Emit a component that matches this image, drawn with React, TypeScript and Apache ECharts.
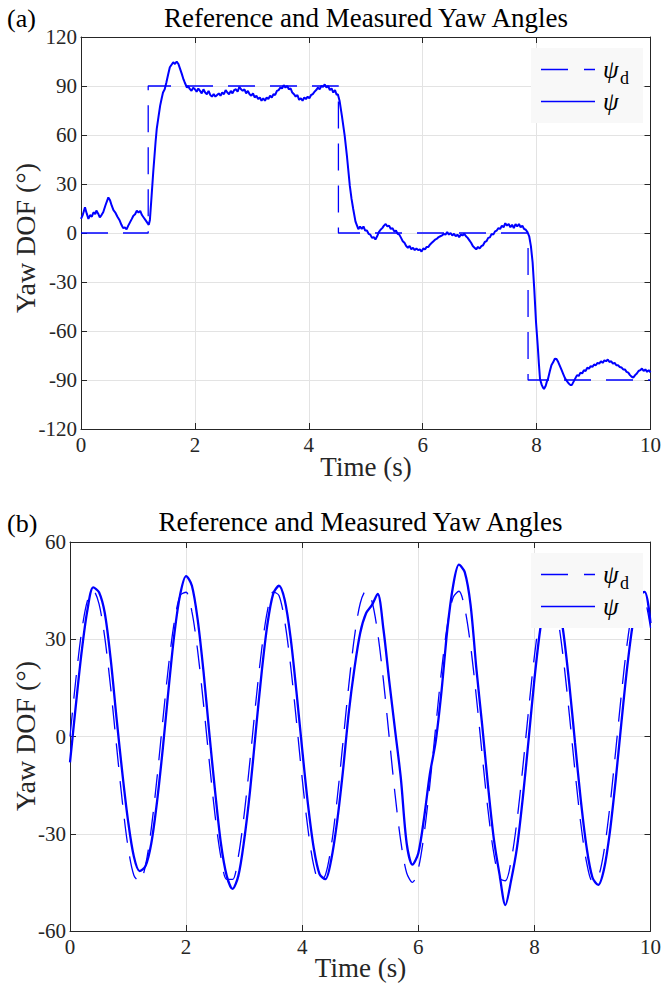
import { useEffect, useRef } from "react";
import * as echarts from "echarts";

// ---------- data ----------
const xTicks = [0, 2, 4, 6, 8, 10];
const topYTicks = [-120, -90, -60, -30, 0, 30, 60, 90, 120];
const botYTicks = [-60, -30, 0, 30, 60];

// (a) step reference
const topRefTime = [0, 1.18, 1.18, 4.52, 4.52, 7.85, 7.85, 10];
const topRefYaw = [0, 0, 90, 90, 0, 0, -90, -90];

// (a) measured yaw
const topMeasTime = [
  0.0, 0.03, 0.07, 0.1, 0.13, 0.16, 0.19, 0.22, 0.25, 0.27, 0.3, 0.33, 0.36, 0.39, 0.43, 0.48, 0.51, 0.54, 0.57, 0.6,
  0.64, 0.68, 0.71, 0.74, 0.77, 0.8, 0.83, 0.86, 0.89, 0.92, 0.95, 0.98, 1.01, 1.04, 1.07, 1.1, 1.13, 1.16, 1.19, 1.21,
  1.24, 1.27, 1.29, 1.31, 1.33, 1.36, 1.39, 1.42, 1.44, 1.47, 1.5, 1.53, 1.56, 1.59, 1.62, 1.65, 1.68, 1.71, 1.74, 1.77,
  1.8, 1.82, 1.86, 1.88, 1.91, 1.94, 1.97, 2.0, 2.03, 2.06, 2.09, 2.12, 2.15, 2.18, 2.21, 2.24, 2.27, 2.3, 2.33, 2.36,
  2.39, 2.42, 2.45, 2.48, 2.51, 2.54, 2.57, 2.6, 2.63, 2.66, 2.69, 2.72, 2.75, 2.78, 2.81, 2.84, 2.87, 2.9, 2.93, 2.96,
  2.99, 3.02, 3.05, 3.08, 3.11, 3.14, 3.17, 3.2, 3.23, 3.26, 3.29, 3.32, 3.35, 3.38, 3.41, 3.44, 3.47, 3.5, 3.53, 3.56,
  3.59, 3.62, 3.65, 3.68, 3.71, 3.74, 3.77, 3.8, 3.83, 3.86, 3.89, 3.92, 3.95, 3.98, 4.01, 4.04, 4.07, 4.1, 4.13, 4.16,
  4.19, 4.22, 4.25, 4.28, 4.31, 4.34, 4.37, 4.4, 4.43, 4.46, 4.49, 4.51, 4.54, 4.58, 4.63, 4.67, 4.72, 4.75, 4.78, 4.82,
  4.87, 4.9, 4.93, 4.96, 4.99, 5.02, 5.05, 5.08, 5.11, 5.14, 5.17, 5.2, 5.23, 5.26, 5.29, 5.32, 5.35, 5.38, 5.41, 5.44,
  5.47, 5.5, 5.53, 5.56, 5.59, 5.62, 5.65, 5.68, 5.71, 5.74, 5.77, 5.8, 5.83, 5.86, 5.89, 5.92, 5.95, 5.98, 6.01, 6.04,
  6.07, 6.1, 6.13, 6.16, 6.19, 6.22, 6.25, 6.28, 6.31, 6.34, 6.37, 6.4, 6.43, 6.46, 6.49, 6.52, 6.55, 6.58, 6.61, 6.64,
  6.67, 6.7, 6.73, 6.76, 6.79, 6.82, 6.85, 6.88, 6.91, 6.94, 6.97, 7.0, 7.03, 7.06, 7.09, 7.12, 7.15, 7.18, 7.21, 7.24,
  7.27, 7.3, 7.33, 7.36, 7.39, 7.42, 7.45, 7.48, 7.51, 7.54, 7.57, 7.6, 7.63, 7.66, 7.69, 7.72, 7.75, 7.78, 7.81, 7.84,
  7.87, 7.9, 7.93, 7.96, 7.99, 8.02, 8.04, 8.06, 8.09, 8.11, 8.13, 8.16, 8.18, 8.2, 8.23, 8.26, 8.29, 8.32, 8.35, 8.38,
  8.41, 8.44, 8.47, 8.5, 8.53, 8.56, 8.59, 8.62, 8.65, 8.68, 8.71, 8.74, 8.77, 8.8, 8.83, 8.86, 8.89, 8.92, 8.95, 8.98,
  9.01, 9.04, 9.07, 9.1, 9.13, 9.16, 9.19, 9.22, 9.25, 9.28, 9.31, 9.34, 9.37, 9.4, 9.43, 9.46, 9.49, 9.52, 9.55, 9.58,
  9.61, 9.64, 9.67, 9.7, 9.73, 9.76, 9.79, 9.82, 9.85, 9.88, 9.91, 9.94, 9.97, 10.0,
];
const topMeasYaw = [
  8.6, 11, 15.7, 12, 8.6, 11, 10, 12.7, 11.5, 13.7, 12, 9.6, 11, 12.7, 17, 21.8, 20, 16.7, 14, 12.7,
  10, 7.6, 5, 3, 3.5, 2.2, 4.5, 6.5, 8.5, 10.6, 11.5, 13.7, 12.5, 13.5, 11, 9.5, 8, 6.5, 5, 8,
  22.9, 38, 47, 56, 63.7, 71, 78, 83, 86, 88, 92.3, 97, 101.5, 103, 104.5, 103.5, 105, 103.5, 100.5, 97.4,
  94, 92.3, 89, 90, 88.2, 87, 89, 88, 86.5, 88.5, 87, 85.5, 88, 86, 85, 87, 84.5, 83.5, 85, 83.5,
  84.5, 85.5, 84, 86, 85, 87.5, 86, 85, 87, 85.5, 87.5, 88, 86.5, 89.5, 88, 87, 88, 85.5, 87, 85,
  84, 85.5, 83, 84, 82, 83, 81, 82.5, 81, 83, 82, 84, 83, 85, 84.5, 87, 87.5, 89, 88.5, 90.5,
  89, 90, 88, 88.5, 86, 85, 83.5, 84.5, 81.5, 82.5, 81, 83, 82, 83.5, 82.5, 84.5, 85, 86.5, 87.5, 89,
  88, 90, 89.5, 91, 89, 90, 87.5, 88.5, 86, 87.5, 84.5, 85, 81, 72, 59.6, 47, 29, 21, 14.7, 7,
  2.4, 4, 2.5, 4, 1.5, 1.5, -0.5, -1, -3, -2.5, -4, -2, 0.5, 2, 3, 4.5, 5.5, 4, 4.5, 2.5,
  3, 1, 1.5, -0.5, -1, -3, -5, -6, -8, -9, -8, -10, -9, -10.5, -9.5, -10.5, -10, -11.4, -9.5, -10,
  -8.5, -8.5, -7, -6, -5, -4, -3.5, -2.5, -2, -1.5, -0.5, -1, 0.5, -1, 0, -1.5, -0.5, -2, -1, -2.5,
  -1, -1.5, -0.5, -2, -3, -4.5, -6, -8, -9, -10, -8.5, -9.5, -8, -7.5, -5.5, -5, -3, -2.7, -0.5, -1,
  1, 1.5, 3, 2.5, 4.5, 3.5, 6, 4.5, 5.5, 3.5, 5, 3, 5.5, 4, 5.5, 3.5, 4.5, 2.5, 2, 0.5,
  -2, -8, -18, -35, -54.7, -69, -80, -89.4, -93, -94.5, -95.5, -93.5, -91, -89.4, -85, -81, -79.2, -77, -77.2, -79,
  -81.5, -84, -86.5, -89, -90.5, -92, -93, -93, -91, -89, -87, -87.5, -85.5, -86, -84, -84.5, -82.5, -83, -81.5, -82,
  -80.5, -81, -79.5, -80, -78.5, -79.5, -78, -78.5, -77.5, -79, -78.5, -80, -79.5, -81, -81, -82, -82.3, -83.5, -83.5, -85,
  -85.5, -87, -88, -88.5, -87, -86, -84.5, -84, -83, -84.5, -83.5, -85, -84, -85.3,
];

// (b) sinusoidal reference and measured yaw, sampled every 0.1 s
const botRefYaw = [
  0, 17.5, 32.3, 41.9, 45, 40.9, 30.4, 15.1, -2.6, -19.9,
  -34.1, -42.8, -44.8, -39.8, -28.4, -12.6, 5.2, 22.2, 35.7, 43.6,
  44.5, 38.5, 26.3, 10, -7.8, -24.5, -37.3, -44.1, -44.1, -37,
  -24.1, -7.5, 10.4, 26.6, 38.7, 44.6, 43.5, 35.4, 21.9, 4.9,
  -13, -28.7, -39.9, -44.9, -42.7, -33.8, -19.6, -2.2, 15.4, 30.7,
  41.1, 45, 41.8, 32, 17.2, -0.4, -17.9, -32.5, -42.1, -45,
  -40.8, -30.1, -14.7, 3, 20.3, 34.3, 42.9, 44.8, 39.6, 28.1,
  12.2, -5.6, -22.6, -36, -43.7, -44.5, -38.2, -26, -9.6, 8.2,
  24.8, 37.5, 44.2, 44, 36.8, 23.8, 7.1, -10.8, -27, -38.9,
  -44.6, -43.3, -35.2, -21.6, -4.5, 13.3, 29, 40.1, 44.9, 42.6,
  33.5,
];
const botMeasYaw = [
  -8, 9.5, 26, 39, 46, 44.5, 38, 24, 6, -11,
  -26, -37, -41.5, -40, -33, -20, -3.5, 15, 32, 44,
  49.5, 46.5, 36, 20, 1, -17, -33, -43, -47, -43,
  -32, -17, 1.5, 19.5, 34.5, 44, 46.5, 42, 30.5, 14,
  -4, -21, -34.5, -42.5, -44, -38, -26.5, -11, 7, 21,
  32, 38, 40.5, 44, 33, 17, 2, -13, -33, -39.5,
  -36, -25, -11.5, -1.5, 14, 33, 46.5, 53, 50.7, 40.7,
  21, 3.6, -15, -31.4, -42.6, -52, -44.3, -34.3, -19, -1,
  17.6, 33, 43.4, 46.8, 42.8, 32, 16.4, -2, -19.7, -34.3,
  -43.5, -45.8, -40.9, -29.5, -13.5, 4.5, 21.6, 35.3, 43.4, 44.6,
  35,
];
const botTime = botRefYaw.map((_, i) => i / 10);

const titleText = "Reference and Measured Yaw Angles";
const xName = "Time (s)";
const yName = "Yaw DOF (°)";

// ---------- styles ----------
const SERIF = "Liberation Serif";
const AX = "#262626";
const GRIDC = "#e3e3e3";
const BLUE = "#0000ff";
const TICK_FS = 21;
const NAME_FS = 27;

const grids = [
  { left: 81, top: 37, width: 570, height: 392 },
  { left: 70, top: 542, width: 581, height: 389 },
];

function xAxes(gi: number) {
  const base = {
    type: "value" as const,
    gridIndex: gi,
    min: xTicks[0],
    max: xTicks[xTicks.length - 1],
    interval: 2,
    axisLine: { show: true, onZero: false, lineStyle: { color: AX, width: 1 } },
    axisTick: { show: true, inside: true, length: 6, lineStyle: { color: AX } },
  };
  return [
    {
      ...base,
      position: "bottom",
      axisLabel: { show: true, color: AX, fontFamily: SERIF, fontSize: TICK_FS, margin: 5 },
      splitLine: { show: true, lineStyle: { color: GRIDC, width: 1 } },
    },
    { ...base, position: "top", axisLabel: { show: false }, splitLine: { show: false } },
  ];
}

function yAxes(gi: number, ticks: number[]) {
  const base = {
    type: "value" as const,
    gridIndex: gi,
    min: ticks[0],
    max: ticks[ticks.length - 1],
    interval: 30,
    axisLine: { show: true, onZero: false, lineStyle: { color: AX, width: 1 } },
    axisTick: { show: true, inside: true, length: 6, lineStyle: { color: AX } },
  };
  return [
    {
      ...base,
      position: "left",
      axisLabel: { show: true, color: AX, fontFamily: SERIF, fontSize: TICK_FS, margin: 4 },
      splitLine: { show: true, lineStyle: { color: GRIDC, width: 1 } },
    },
    { ...base, position: "right", axisLabel: { show: false }, splitLine: { show: false } },
  ];
}

function legendEls(top: number) {
  const left = 531;
  const r1 = top + 21.5;
  const r2 = top + 53.5;
  return [
    {
      type: "rect",
      z: 100,
      shape: { x: left, y: top, width: 112, height: 75 },
      style: { fill: "#f8f8f8", stroke: "none" },
    },
    {
      type: "line",
      z: 101,
      shape: { x1: 541, y1: r1, x2: 595, y2: r1 },
      style: { stroke: BLUE, lineWidth: 1.3, lineDash: [27, 16] },
    },
    {
      type: "text",
      z: 101,
      x: 603,
      y: r1,
      style: { text: "ψ", fontFamily: SERIF, fontSize: 25, fontStyle: "italic", fill: "#000", textAlign: "left", textVerticalAlign: "middle", verticalAlign: "middle" },
    },
    {
      type: "text",
      z: 101,
      x: 620,
      y: r1 + 8,
      style: { text: "d", fontFamily: SERIF, fontSize: 18, fill: "#000", textAlign: "left", textVerticalAlign: "middle", verticalAlign: "middle" },
    },
    {
      type: "line",
      z: 101,
      shape: { x1: 541, y1: r2, x2: 595, y2: r2 },
      style: { stroke: BLUE, lineWidth: 1.3 },
    },
    {
      type: "text",
      z: 101,
      x: 603,
      y: r2,
      style: { text: "ψ", fontFamily: SERIF, fontSize: 25, fontStyle: "italic", fill: "#000", textAlign: "left", textVerticalAlign: "middle", verticalAlign: "middle" },
    },
  ];
}

function txt(text: string, x: number, y: number, size: number, rot = 0, color = AX, align = "center") {
  return {
    type: "text",
    z: 100,
    x,
    y,
    rotation: rot,
    style: { text, fontFamily: SERIF, fontSize: size, fill: color, textAlign: align, textVerticalAlign: "middle", verticalAlign: "middle" },
  };
}

export default function App() {
  const ref = useRef<HTMLDivElement>(null);
  useEffect(() => {
    if (!ref.current) return;
    const chart = echarts.init(ref.current, undefined, { renderer: "svg" });
    const option = {
      animation: false,
      backgroundColor: "#ffffff",
      textStyle: { fontFamily: SERIF },
      grid: grids,
      xAxis: [...xAxes(0), ...xAxes(1)],
      yAxis: [...yAxes(0, topYTicks), ...yAxes(1, botYTicks)],
      series: [
        {
          type: "line",
          name: "psi_d (a)",
          xAxisIndex: 0,
          yAxisIndex: 0,
          data: topRefTime.map((t, i) => [t, topRefYaw[i]]),
          showSymbol: false,
          lineStyle: { color: BLUE, width: 1.3, type: [27, 15] },
          z: 3,
        },
        {
          type: "line",
          name: "psi (a)",
          xAxisIndex: 0,
          yAxisIndex: 0,
          data: topMeasTime.map((t, i) => [t, topMeasYaw[i]]),
          showSymbol: false,
          lineStyle: { color: BLUE, width: 2 },
          z: 2,
        },
        {
          type: "line",
          name: "psi_d (b)",
          xAxisIndex: 2,
          yAxisIndex: 2,
          data: botTime.map((t, i) => [t, botRefYaw[i]]),
          showSymbol: false,
          smooth: 0.3,
          lineStyle: { color: BLUE, width: 1.3, type: [24, 14] },
          z: 3,
        },
        {
          type: "line",
          name: "psi (b)",
          xAxisIndex: 2,
          yAxisIndex: 2,
          data: botTime.map((t, i) => [t, botMeasYaw[i]]),
          showSymbol: false,
          smooth: 0.3,
          lineStyle: { color: BLUE, width: 2.3 },
          z: 2,
        },
      ],
      graphic: {
        elements: [
          txt(titleText, 366, 18, NAME_FS, 0, "#000"),
          txt(titleText, 360.5, 522, NAME_FS, 0, "#000"),
          txt("(a)", 7, 18, 26, 0, "#000", "left"),
          txt("(b)", 7, 523, 26, 0, "#000", "left"),
          txt(xName, 366, 467, NAME_FS),
          txt(xName, 360.5, 968, NAME_FS),
          txt(yName, 25, 238, 28, Math.PI / 2),
          txt(yName, 25, 736, 28, Math.PI / 2),
          ...legendEls(48),
          ...legendEls(553),
        ],
      },
    };
    chart.setOption(option as any);
    return () => chart.dispose();
  }, []);
  return <div ref={ref} style={{ position: "absolute", left: 0, top: 0, width: 664, height: 985 }} />;
}
